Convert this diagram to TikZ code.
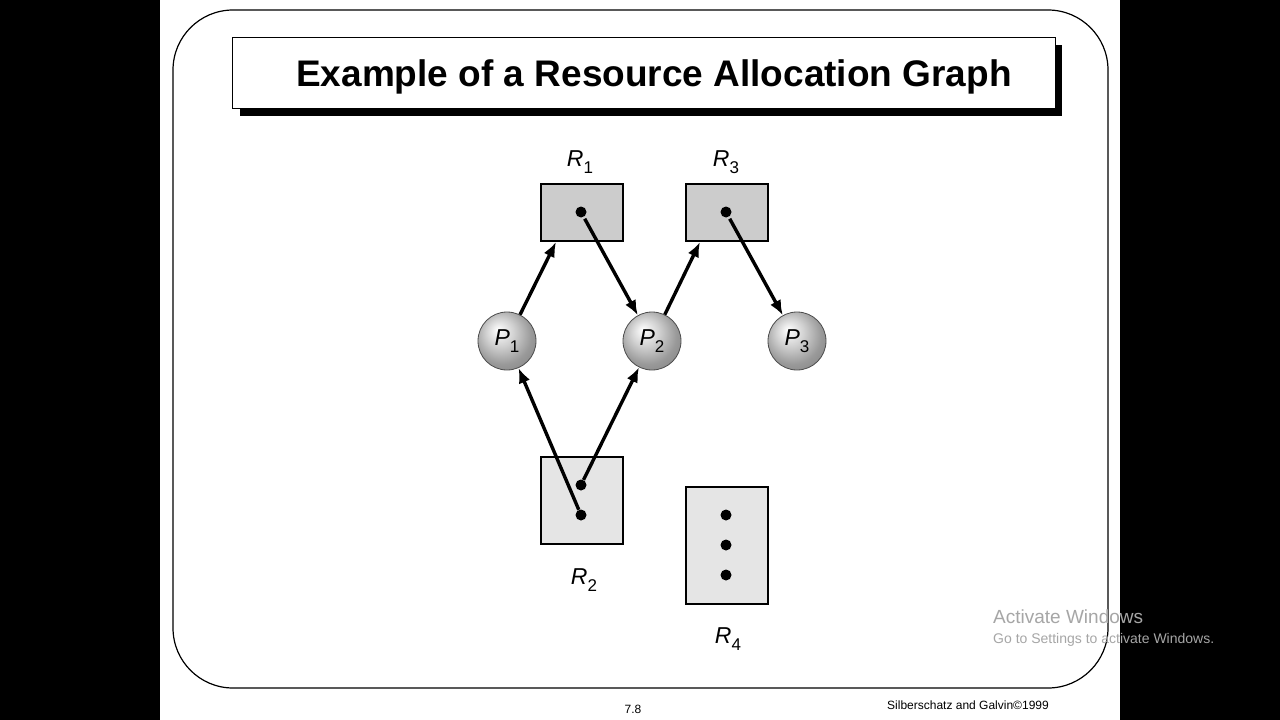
\documentclass[tikz,border=0pt]{standalone}
\usepackage{fontspec}
\setmainfont{Liberation Sans}
\usetikzlibrary{arrows.meta,shadings}
\newcommand{\sbs}[1]{\raisebox{-7pt}{\upshape\fontsize{17}{18}\selectfont #1}}
\pgfdeclareradialshading{procball}{\pgfpoint{-8bp}{10bp}}{color(0bp)=(white); color(12bp)=(black!18); color(25bp)=(black!40); color(50bp)=(black!60)}
\tikzset{
 res/.style={draw=black,line width=1.4pt},
 proc/.style={circle,draw=black!70,line width=0.8pt,minimum size=58pt,inner sep=0pt,shading=procball,font=\fontsize{23}{24}\selectfont\itshape},
 dotn/.style={circle,fill=black,inner sep=0pt,minimum size=11pt},
 lab/.style={font=\fontsize{23}{24}\selectfont\itshape},
 edge/.style={line width=3.4pt,-{Latex[length=15pt,width=12pt]}}
}
\begin{document}
\begin{tikzpicture}[x=1pt,y=-1pt]
\fill[black] (0,0) rectangle (1280,720);
\fill[white] (160,0) rectangle (1120,720);
\useasboundingbox (0,0) rectangle (1280,720);
\draw[line width=1.2pt,rounded corners=60pt] (173,10) rectangle (1108,688);
\fill[black] (240,45) rectangle (1062,116);
\draw[fill=white,line width=1pt] (232,37) rectangle (1055,108);
\node[font=\fontsize{37}{40}\selectfont\bfseries] (title) at (654,77) {Example of a Resource Allocation Graph};
% resources
\draw[res,fill=black!20] (541,184) rectangle (623,241);
\draw[res,fill=black!20] (686,184) rectangle (768,241);
\draw[res,fill=black!10] (541,457) rectangle (623,544);
\draw[res,fill=black!10] (686,487) rectangle (768,604);
\node[dotn] (r1) at (581,212) {};
\node[dotn] (r3) at (726,212) {};
\node[dotn] (r2a) at (581,485) {};
\node[dotn] (r2b) at (581,515) {};
\node[dotn] (r4a) at (726,515) {};
\node[dotn] (r4b) at (726,545) {};
\node[dotn] (r4c) at (726,575) {};
\coordinate (r1b) at (556,242);
\coordinate (r3b) at (700,242);
\node[lab] (l1) at (580,162) {R\sbs{1}};
\node[lab] (l3) at (726,162) {R\sbs{3}};
\node[lab] (l2) at (584,580) {R\sbs{2}};
\node[lab] (l4) at (728,639) {R\sbs{4}};
% processes
\node[proc] (p1) at (507,341) {P\sbs{1}};
\node[proc] (p2) at (652,341) {P\sbs{2}};
\node[proc] (p3) at (797,341) {P\sbs{3}};
\draw[edge] (p1) -- (r1b);
\draw[edge] (p2) -- (r3b);
\draw[edge,shorten <=2pt] (r1) -- (p2);
\draw[edge,shorten <=2pt] (r3) -- (p3);
\draw[edge] (r2b) -- (p1);
\draw[edge] (r2a) -- (p2);
\node[font=\fontsize{12}{14}\selectfont] (pg) at (633,709) {7.8};
\node[font=\fontsize{12}{14}\selectfont] (cr) at (968,705) {Silberschatz and Galvin©1999};
\node[anchor=west,inner sep=0pt,text=black!35,font=\fontsize{19}{20}\selectfont] (w1) at (993,617) {Activate Windows};
\node[anchor=west,inner sep=0pt,text=black!35,font=\fontsize{14}{15}\selectfont] (w2) at (993,640) {Go to Settings to activate Windows.};
\end{tikzpicture}
\end{document}
